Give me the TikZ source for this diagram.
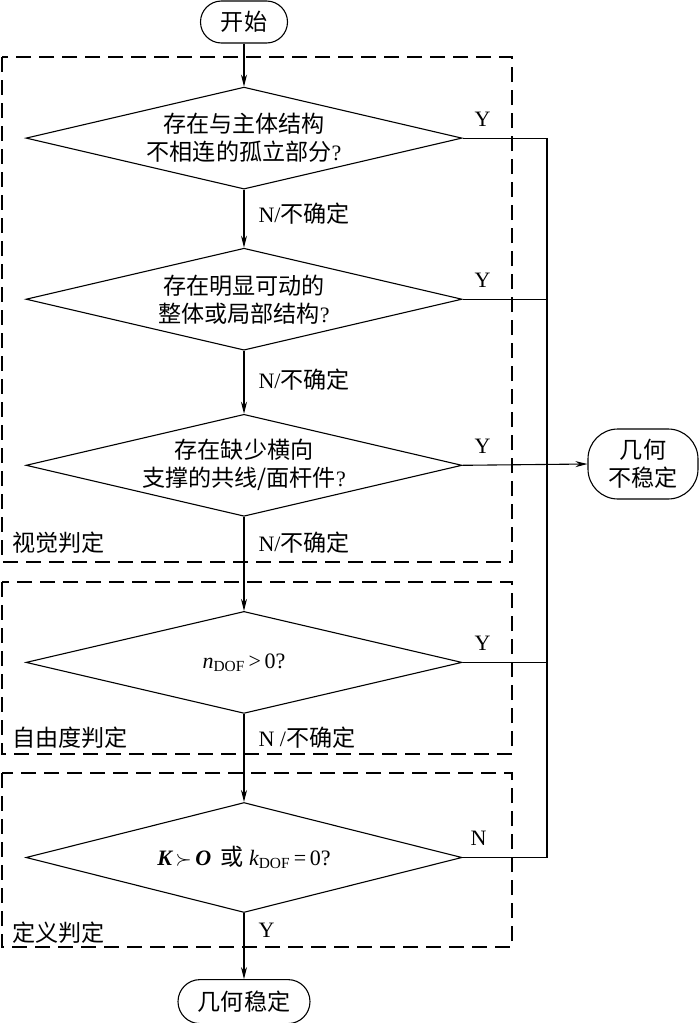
\documentclass[tikz,border=0pt]{standalone}
\usepackage{fontspec}
\setmainfont{Liberation Serif}
\newfontfamily\cjk[Scale=1.05]{Noto Sans CJK SC}
\usetikzlibrary{arrows.meta, positioning, shapes.geometric}

\begin{document}
\begin{tikzpicture}[
  x=1pt, y=-1pt,
  >={Stealth[length=12pt,width=6pt]},
  line width=1.1pt,
  font=\fontsize{22}{28}\selectfont,
  term/.style={rectangle, draw, rounded corners=21pt, minimum width=87pt, minimum height=42pt, inner sep=0pt, align=center},
  cond/.style={diamond, draw, aspect=4.3, minimum width=436pt, minimum height=102pt, inner sep=0pt, align=center},
  group/.style={draw, dash pattern=on 15pt off 8pt},
  lbl/.style={inner sep=0pt, anchor=west}
]
\useasboundingbox (0,0) rectangle (700,1023);

% Judgement groups
\draw[group] (2,57) rectangle (512,562);
\draw[group] (2,582) rectangle (512,754);
\draw[group] (2,773) rectangle (512,947);

% Main column
\node[term] (start) at (244,22) {\cjk 开始};
\node[cond, below=43pt of start] (d1) {{\cjk 存在与主体结构}\\{\cjk 不相连的孤立部分}?};
\node[cond, below=58pt of d1] (d2) {{\cjk 存在明显可动的}\\{\cjk 整体或局部结构}?};
\node[cond, below=63pt of d2] (d3) {{\cjk 存在缺少横向}\\{\cjk 支撑的共线/面杆件}?};
\node[cond, below=94pt of d3] (d4) {{\itshape n}\textsubscript{DOF}\,>\,0?};
\node[cond, below=88pt of d4, minimum height=110pt] (d5) {{\bfseries\itshape K}\,$\succ$\,{\bfseries\itshape O}\, {\cjk 或} {\itshape k}\textsubscript{DOF}\,=\,0?};
\node[term, below=66pt of d5, minimum width=132pt, minimum height=44pt, rounded corners=22pt] (stable) {\cjk 几何稳定};
\node[term, minimum width=110pt, minimum height=70pt, rounded corners=30pt] (unstable) at (643,464) {\cjk 几何\\\cjk 不稳定};
\coordinate (bus) at (547,0);

\foreach \i/\j in {start/d1, d1/d2, d2/d3, d3/d4, d4/d5, d5/stable} {
  \draw[->] (\i) -- (\j);
}

% Right branch
\draw (d1.east) -- (d1.east -| bus) |- (d5.east);
\draw (d2.east) -- (d2.east -| bus);
\draw (d4.east) -- (d4.east -| bus);
\draw[->] (d3.east) -- (unstable.west);

% Branch labels
\foreach \d in {d1, d2, d3, d4} {
  \node[inner sep=0pt] (y\d) at ([xshift=20pt, yshift=19pt]\d.east) {Y};
}
\node[inner sep=0pt] (nd5) at ([xshift=16pt, yshift=19pt]d5.east) {N};
\node[lbl] (n1) at (258,214) {N/{\cjk 不确定}};
\node[lbl] (n2) at (258,380) {N/{\cjk 不确定}};
\node[lbl] (n3) at (258,543) {N/{\cjk 不确定}};
\node[lbl] (n4) at (258,738) {N /{\cjk 不确定}};
\node[lbl] (y5) at (258,930) {Y};

% Group titles
\node[lbl] (g1) at (12,543) {\cjk 视觉判定};
\node[lbl] (g2) at (12,738) {\cjk 自由度判定};
\node[lbl] (g3) at (12,933) {\cjk 定义判定};

\end{tikzpicture}
\end{document}
